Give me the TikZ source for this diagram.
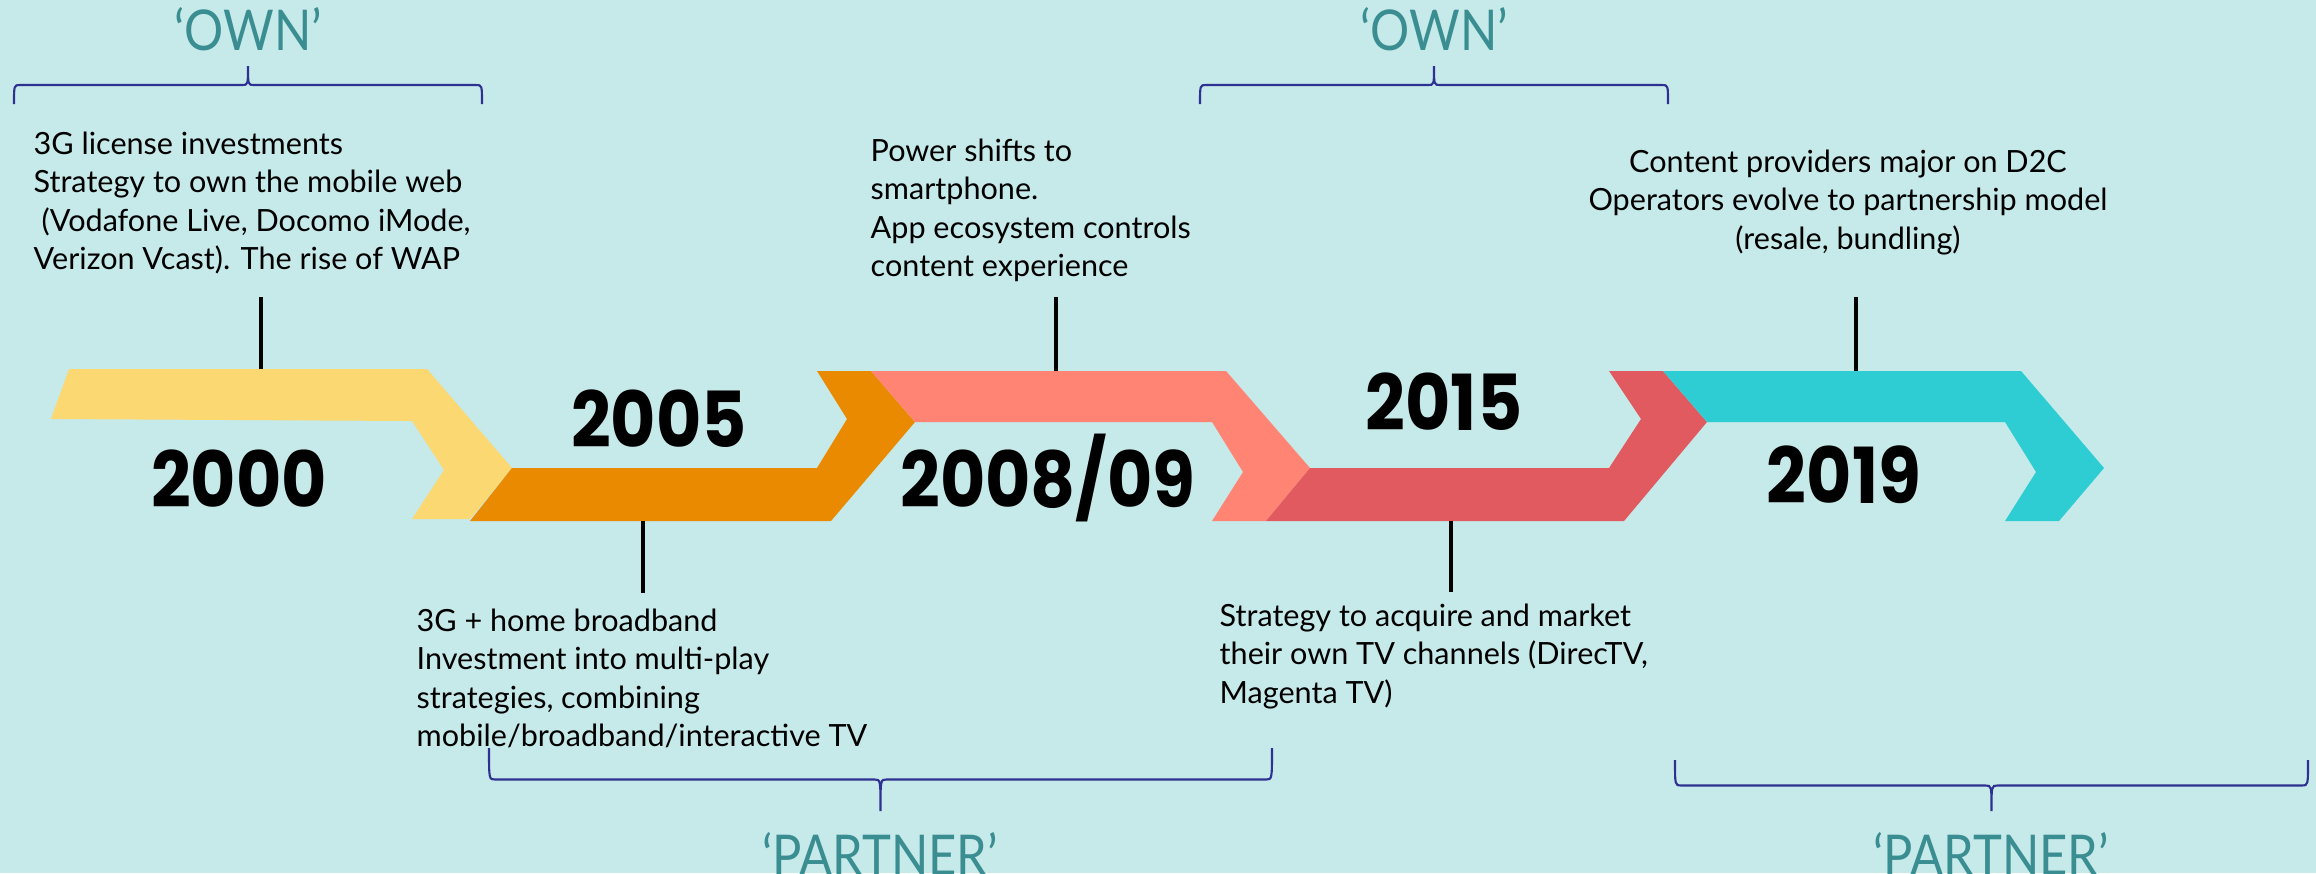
\documentclass[tikz,border=0pt]{standalone}
\usepackage{fontspec}
\setmainfont{Lato}
\newfontfamily\yearfont{Poppins}[FakeStretch=0.9]
\newfontfamily\titlefont{Lato}[FakeStretch=0.87]
\usetikzlibrary{positioning}

\definecolor{bgcol}{HTML}{C6E9E9}
\definecolor{bandA}{HTML}{FBD872}
\definecolor{bandB}{HTML}{EA8A00}
\definecolor{bandC}{HTML}{FF8474}
\definecolor{bandD}{HTML}{E15A5F}
\definecolor{bandE}{HTML}{2ECDD3}
\definecolor{titlecol}{HTML}{3A8E91}
\definecolor{bracecol}{HTML}{2E3192}

% accolade : #1,#2 x des bouts, #3 y des bouts, #4 y de la pointe
\newcommand{\accolade}[4]{%
  \pgfmathsetmacro{\accym}{(#3+#4)/2}%
  \pgfmathsetmacro{\accxm}{(#1+#2)/2}%
  \draw[BraceStyle] (#1,#3) .. controls (#1,\accym) .. (#1+6,\accym) -- (\accxm-6,\accym)
    .. controls (\accxm,\accym) .. (\accxm,#4)
    .. controls (\accxm,\accym) .. (\accxm+6,\accym) -- (#2-6,\accym)
    .. controls (#2,\accym) .. (#2,#3);}

\begin{document}
\begin{tikzpicture}[x=0.1mm, y=-0.1mm]
  \tikzset{YearStyle/.style  = {font=\yearfont\bfseries\fontsize{22}{26}\selectfont,
                                anchor=base, inner sep=0pt},
           NoteStyle/.style  = {font=\fontsize{8.7}{10.95}\selectfont,
                                align=left, anchor=north west, inner sep=0pt},
           TitleStyle/.style = {font=\titlefont\fontsize{16}{19}\selectfont, text=titlecol,
                                inner sep=0pt},
           StemStyle/.style  = {line width=1.15pt},
           BraceStyle/.style = {draw=bracecol, line width=0.6pt}}
  \useasboundingbox (0,0) rectangle (2316,873);
  \fill[bgcol] (0,0) rectangle (2316,873);
  %%% BANDES %%%
  \fill[bandA] (69,369) -- (427,369) -- (512,468) -- (470,519) -- (412,519)
               -- (444,470) -- (412,421) -- (51,419) -- cycle;
  \fill[bandB] (512,468) -- (817,468) -- (847,419) -- (817,371) -- (871,371)
               -- (915,422) -- (831,521) -- (470,521) -- cycle;
  \fill[bandC] (871,371) -- (1226,371) -- (1310,468) -- (1266,521) -- (1212,521)
               -- (1243,472) -- (1212,422) -- (915,422) -- cycle;
  \fill[bandD] (1310,468) -- (1609,468) -- (1641,419) -- (1609,371) -- (1663,371)
               -- (1707,422) -- (1624,521) -- (1266,521) -- cycle;
  \fill[bandE] (1663,371) -- (2021,371) -- (2104,468) -- (2059,521) -- (2005,521)
               -- (2036,472) -- (2005,422) -- (1707,422) -- cycle;
  %%% ANNEES %%%
  \node[YearStyle] (y00) at (239,507) {2000};
  \node[YearStyle] (y05) at (659,447) {2005};
  \node[YearStyle] (y08) at (1048,507) {2008/09};
  \node[YearStyle] (y15) at (1444,430) {2015};
  \node[YearStyle] (y19) at (1844,503) {2019};
  %%% TIGES %%%
  \coordinate (s00) at (261,297);  \coordinate (e00) at (261,369);
  \coordinate (s08) at (1056,297); \coordinate (e08) at (1056,371);
  \coordinate (s19) at (1856,297); \coordinate (e19) at (1856,371);
  \coordinate (s05) at (643,521);  \coordinate (e05) at (643,593);
  \coordinate (s15) at (1451,521); \coordinate (e15) at (1451,592);
  \draw[StemStyle] (s00) -- (e00);
  \draw[StemStyle] (s08) -- (e08);
  \draw[StemStyle] (s19) -- (e19);
  \draw[StemStyle] (s05) -- (e05);
  \draw[StemStyle] (s15) -- (e15);
  %%% TEXTES %%%
  \node[NoteStyle] (n00) at (33,131) {3G license investments\\
    Strategy to own the mobile web\\
    \ (Vodafone Live, Docomo iMode,\\
    Verizon Vcast).  The rise of WAP};
  \node[NoteStyle] (n08) at (870,138) {Power shifts to\\
    smartphone.\\
    App ecosystem controls\\
    content experience};
  \node[NoteStyle, align=center, anchor=north] (n19) at (1848,149) {Content providers major on D2C\\
    Operators evolve to partnership model\\
    (resale, bundling)};
  \node[NoteStyle] (n05) at (416,608) {3G + home broadband\\
    Investment into multi-play\\
    strategies, combining\\
    mobile/broadband/interactive TV};
  \node[NoteStyle] (n15) at (1219,603) {Strategy to acquire and market\\
    their own TV channels (DirecTV,\\
    Magenta TV)};
  %%% ACCOLADES %%%
  \accolade{14}{482}{104}{66}
  \accolade{1200}{1668}{104}{66}
  \accolade{489}{1272}{748}{811}
  \accolade{1675}{2308}{760}{811}
  \coordinate (own1) at (248,66);
  \coordinate (own2) at (1434,66);
  \coordinate (par1) at (880,811);
  \coordinate (par2) at (1991,811);
  \node[TitleStyle, above=1.4mm of own1] (o1) {‘OWN’};
  \node[TitleStyle, above=1.4mm of own2] (o2) {‘OWN’};
  \node[TitleStyle, below=2.1mm of par1] (p1) {‘PARTNER’};
  \node[TitleStyle, below=2.1mm of par2] (p2) {‘PARTNER’};
\end{tikzpicture}
\end{document}
